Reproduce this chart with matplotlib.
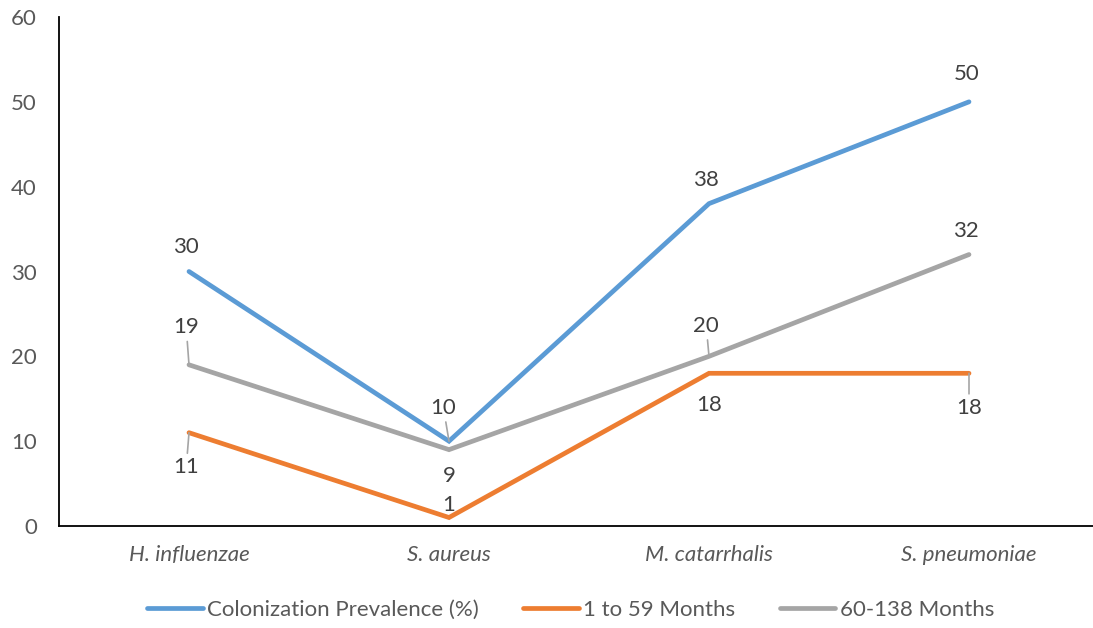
import matplotlib
matplotlib.use("Agg")
import matplotlib.pyplot as plt

categories = ["H. influenzae", "S. aureus", "M. catarrhalis", "S. pneumoniae"]
prevalence = [30, 10, 38, 50]
months_1_59 = [11, 1, 18, 18]
months_60_138 = [19, 9, 20, 32]
series_names = ["Colonization Prevalence (%)", "1 to 59 Months", "60-138 Months"]
y_ticks = [0, 10, 20, 30, 40, 50, 60]

colors = ["#5B9BD5", "#ED7D31", "#A5A5A5"]
text_color = "#595959"

# label offsets (points) and whether a leader line is drawn
label_layout = [
    [((-2, 18), False), ((-4, 24), True), ((-2, 17), False), ((-2, 20), False)],
    [((-2, -25), True), ((0, 9), False), ((0, -23), False), ((0, -25), True)],
    [((-2, 27), True), ((0, -19), False), ((-2, 22), True), ((-2, 17), False)],
]

plt.rcParams["font.family"] = ["Lato", "DejaVu Sans"]
fs = 16

W, H = 1093, 628
fig = plt.figure(figsize=(W / 100, H / 100), dpi=100)
ax = fig.add_axes([59 / W, 1 - 526 / H, (W - 59) / W, 509 / H])

x = list(range(len(categories)))
all_series = [prevalence, months_1_59, months_60_138]
for vals, name, col, layout in zip(all_series, series_names, colors, label_layout):
    ax.plot(x, vals, color=col, lw=3.4, label=name, solid_capstyle="round",
            solid_joinstyle="miter", zorder=3)
    for xi, v, (off, leader) in zip(x, vals, layout):
        arrow = dict(arrowstyle="-", color="#A5A5A5", lw=1.2,
                     shrinkA=1, shrinkB=0) if leader else None
        ax.annotate(str(v), xy=(xi, v), xytext=off, textcoords="offset points",
                    ha="center", va="center", fontsize=fs, color="#404040",
                    arrowprops=arrow, zorder=4)

ax.set_xlim(-0.5, -0.5 + (W - 59) / 260)
ax.set_ylim(0, 60)
ax.set_yticks(y_ticks)
ax.set_xticks(x)
ax.set_xticklabels(categories, fontstyle="italic")
ax.tick_params(axis="both", length=0, labelsize=fs, labelcolor=text_color)
ax.tick_params(axis="y", pad=16)
ax.tick_params(axis="x", pad=14)
for s in ["top", "right"]:
    ax.spines[s].set_visible(False)
for s in ["left", "bottom"]:
    ax.spines[s].set_color("#000000")
    ax.spines[s].set_linewidth(1.3)

leg = fig.legend(loc="center", bbox_to_anchor=(0.522, 1 - 610 / H), ncol=3,
                 frameon=False, fontsize=fs, handlelength=2.5, handletextpad=0.2,
                 columnspacing=2.0)
for t in leg.get_texts():
    t.set_color(text_color)

fig.savefig("out.png", dpi=100)
